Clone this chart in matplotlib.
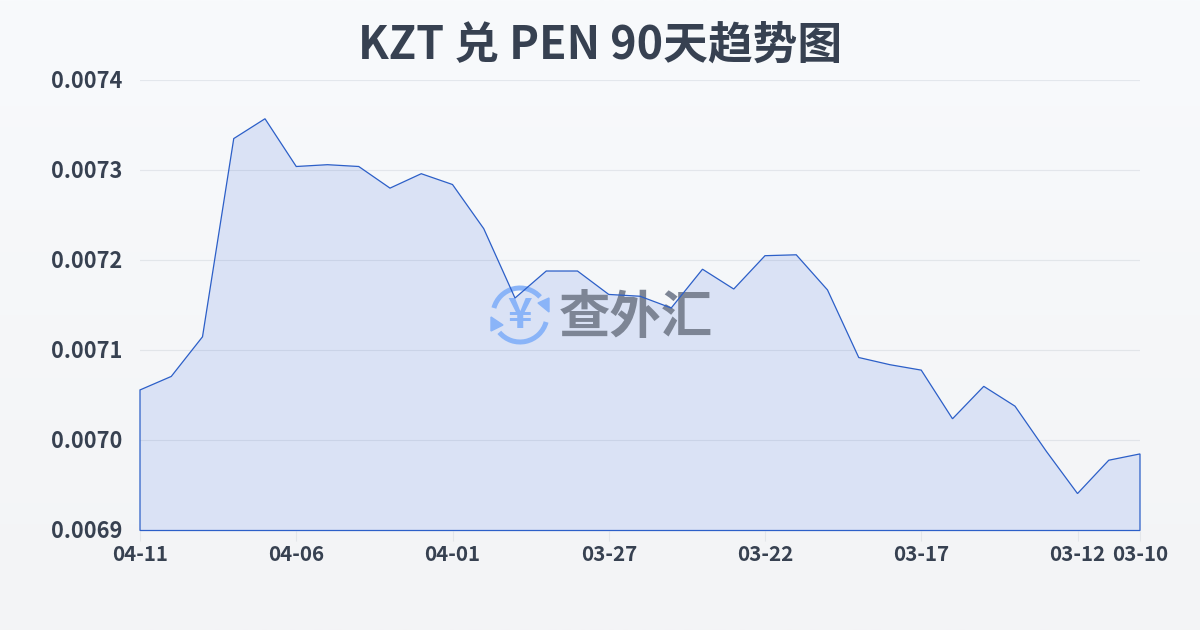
import numpy as np
import matplotlib
matplotlib.use("Agg")
import matplotlib.pyplot as plt
from matplotlib.patches import Arc, Polygon
from matplotlib.transforms import Affine2D, ScaledTranslation

dates = ["04-11","04-10","04-09","04-08","04-07","04-06","04-05","04-04","04-03","04-02","04-01",
         "03-31","03-30","03-29","03-28","03-27","03-26","03-25","03-24","03-23","03-22","03-21",
         "03-20","03-19","03-18","03-17","03-16","03-15","03-14","03-13","03-12","03-11","03-10"]
rates = [0.007056,0.007071,0.007115,0.007335,0.007357,0.007304,0.007306,0.007304,0.007280,0.007296,
         0.007284,0.007235,0.007158,0.007188,0.007188,0.007162,0.007160,0.007147,0.007190,0.007168,
         0.007205,0.007206,0.007167,0.007092,0.007084,0.007078,0.007024,0.007060,0.007038,0.006988,
         0.006941,0.006978,0.006985]
shown_dates = ["04-11","04-06","04-01","03-27","03-22","03-17","03-12","03-10"]
y_ticks = [0.0069,0.0070,0.0071,0.0072,0.0073,0.0074]
title = "KZT 兑 PEN 90天趋势图"
watermark = "查外汇"

FONT = ["Noto Sans CJK SC", "DejaVu Sans"]
W, H = 1200, 630
INK = "#374151"
LINE = "#2c5fc8"

fig = plt.figure(figsize=(12, 6.3), dpi=100)
bg = fig.add_axes([0, 0, 1, 1], zorder=0)
bg.imshow(np.linspace(0, 1, 256).reshape(-1, 1), aspect="auto", extent=(0, 1, 0, 1),
          cmap=matplotlib.colors.LinearSegmentedColormap.from_list("b", ["#f8fafc", "#f3f4f6"]))
bg.axis("off")

ax = fig.add_axes([140/W, 1-530.5/H, 1000/W, 450.5/H], zorder=1)
ax.patch.set_alpha(0)
x = np.arange(len(rates))
ax.fill_between(x, rates, 0.0069, facecolor="#dae2f5", edgecolor="none", zorder=2)
ax.fill(np.r_[x, x[-1], x[0]], np.r_[rates, 0.0069, 0.0069], facecolor="none",
        edgecolor=LINE, linewidth=0.9, zorder=5, joinstyle="miter", clip_on=False)
ax.set_xlim(0, len(rates)-1)
ax.set_ylim(0.0069, 0.0074)
ax.set_yticks(y_ticks)
ax.set_yticklabels([f"{v:.4f}" for v in y_ticks], family=FONT, fontweight="bold", fontsize=15.7, color=INK)
ticks = [dates.index(d) for d in shown_dates]
ax.set_xticks(ticks)
ax.set_xticklabels(shown_dates, family=FONT, fontweight="bold", fontsize=14.8, color=INK)
ax.tick_params(axis="x", length=7, width=0.8, color="#e3e6ea", pad=3)
ax.tick_params(axis="y", length=0, pad=13)
ax.grid(axis="y", color="#64748b", alpha=0.13, linewidth=0.8, zorder=3)
ax.set_axisbelow(False)
for s in ax.spines.values():
    s.set_visible(False)
shift = ScaledTranslation(0, 1.5/100, fig.dpi_scale_trans)
for lab in ax.get_yticklabels():
    lab.set_transform(lab.get_transform() + shift)

fig.text(0.5, 1-46/H, title, ha="center", va="center", family=FONT, fontweight="bold",
         fontsize=32.2, color="#374151")

# watermark in pixel coordinates
px = Affine2D().scale(1, -1).translate(0, H)
BLUE = "#8ab4f8"
ax.text(636, 317.5, watermark, transform=px, ha="center", va="center", family=["Noto Sans CJK SC"],
        fontweight="bold", fontsize=37, color="#7d8595", zorder=4, clip_on=False)
ax.text(520, 316, "¥", transform=px, ha="center", va="center", family=FONT,
        fontweight="bold", fontsize=30, color=BLUE, zorder=4, clip_on=False)
for t1, t2 in [(195, 318), (15, 140)]:
    ax.add_patch(Arc((520, 315), 54, 54, theta1=t1, theta2=t2, transform=px, color=BLUE,
                     linewidth=3.6, zorder=4, clip_on=False))
ax.add_patch(Polygon([(549, 298), (549, 312), (538, 303)], transform=px, color=BLUE, zorder=4, clip_on=False))
ax.add_patch(Polygon([(491, 317), (491, 331), (503, 325)], transform=px, color=BLUE, zorder=4, clip_on=False))

fig.savefig("out.png", dpi=100)
